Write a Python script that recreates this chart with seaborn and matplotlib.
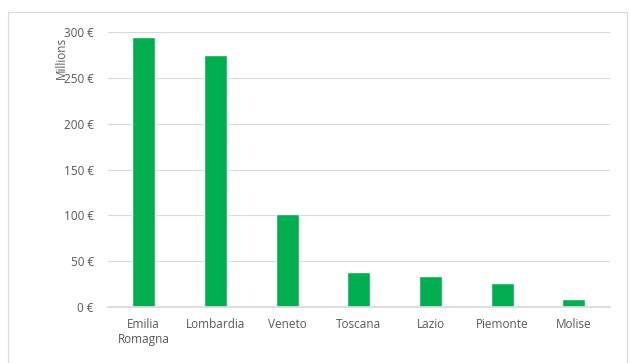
import matplotlib
matplotlib.use("Agg")
import matplotlib.pyplot as plt
import seaborn as sns
import pandas as pd
from matplotlib.patches import Rectangle

regions = ["Emilia\nRomagna", "Lombardia", "Veneto", "Toscana", "Lazio", "Piemonte", "Molise"]
values = [294, 275, 102, 38, 34, 26, 9]
yticks = [0, 50, 100, 150, 200, 250, 300]
ytick_labels = ["0 €", "50 €", "100 €", "150 €", "200 €", "250 €", "300 €"]

df = pd.DataFrame({"region": regions, "value": values})

sns.set_theme(style="white")
plt.rcParams["font.family"] = ["Open Sans", "DejaVu Sans"]

fig = plt.figure(figsize=(6.3, 3.63), dpi=100)
ax = fig.add_axes([0.171, 0.154, 0.797, 0.758])

sns.barplot(data=df, x="region", y="value", color="#00B050", width=0.32,
            saturation=1, ax=ax)

ax.set_ylim(0, 300)
ax.set_yticks(yticks)
ax.set_yticklabels(ytick_labels)
ax.yaxis.grid(True, color="#D9D9D9", linewidth=0.8)
ax.set_axisbelow(True)
for s in ["top", "right", "left"]:
    ax.spines[s].set_visible(False)
ax.spines["bottom"].set_color("#D9D9D9")
ax.set_xlabel("")
ax.set_ylabel("")
ax.tick_params(axis="both", length=0, labelsize=8.5, labelcolor="#595959")
ax.tick_params(axis="y", pad=10)
ax.tick_params(axis="x", pad=8)

fig.text(0.098, 0.84, "Millions", rotation=90, fontsize=8.5, color="#595959",
         ha="center", va="center")

fig.patches.append(Rectangle((8 / 630, -0.02), 619 / 630, 1 - 12 / 363 + 0.02,
                             transform=fig.transFigure, fill=False,
                             edgecolor="#D9D9D9", linewidth=0.8))

fig.savefig("out.png", dpi=100)
